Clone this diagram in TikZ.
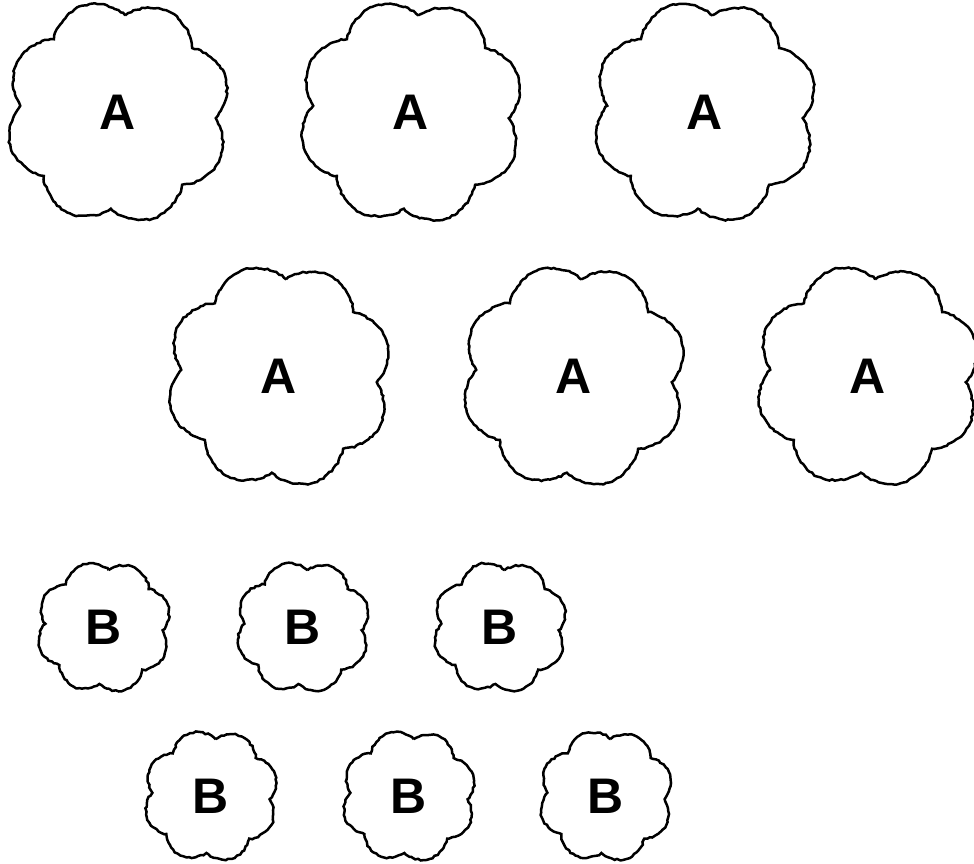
\documentclass[tikz,border=0pt]{standalone}
\usepackage{fontspec}
\setmainfont{Liberation Sans}
\usetikzlibrary{shapes.symbols,decorations.pathmorphing}
\newcommand{\upright}[1]{\rotatebox{-18.5}{#1}}
\begin{document}
\begin{tikzpicture}[x=1pt,y=-1pt,
  cloudbase/.style={cloud, cloud puffs=8, cloud puff arc=125, cloud ignores aspect,
    rotate=18.5, draw=black,
    line width=2.5pt, inner sep=0pt, decorate,
    decoration={random steps, segment length=3pt, amplitude=0.8pt},
    font=\fontsize{50}{60}\selectfont\bfseries},
  bigcloud/.style={cloudbase, minimum width=226pt, minimum height=224pt},
  smallcloud/.style={cloudbase, minimum width=135pt, minimum height=132pt}]
\useasboundingbox (0,0) rectangle (974,864);
% row 1
\node[bigcloud] (a1) at (118,112) {\upright{A}};
\node[bigcloud] (a2) at (411,112) {\upright{A}};
\node[bigcloud] (a3) at (705,112) {\upright{A}};
% row 2
\node[bigcloud] (a4) at (279,376) {\upright{A}};
\node[bigcloud] (a5) at (574,376) {\upright{A}};
\node[bigcloud] (a6) at (868,376) {\upright{A}};
% row 3
\node[smallcloud] (b1) at (104,627) {\upright{B}};
\node[smallcloud] (b2) at (303,627) {\upright{B}};
\node[smallcloud] (b3) at (500,627) {\upright{B}};
% row 4
\node[smallcloud] (b4) at (211,796) {\upright{B}};
\node[smallcloud] (b5) at (409,796) {\upright{B}};
\node[smallcloud] (b6) at (606,796) {\upright{B}};
\end{tikzpicture}
\end{document}
